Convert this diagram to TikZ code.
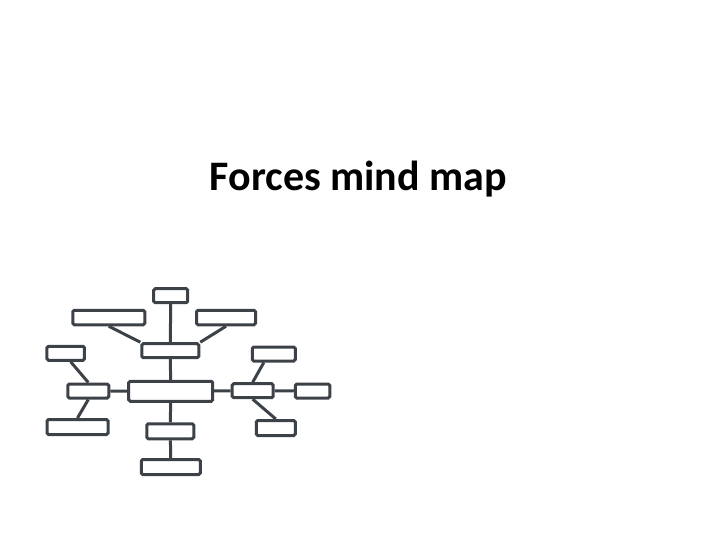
\documentclass[tikz,border=0pt]{standalone}
\usepackage{fontspec}
\setmainfont{Carlito}
\usepackage{tikz}
\usetikzlibrary{calc}
\definecolor{mapgray}{HTML}{3D4249}
\begin{document}
\begin{tikzpicture}[x=1pt,y=-1pt,lnk/.style = {draw=mapgray,line width=3pt},bx/.style args = {#1/#2}{rectangle, draw=mapgray, line width=3pt, fill=white, rounded corners=1.5pt, minimum width=#1pt, minimum height=#2pt, inner sep=0pt}]
\useasboundingbox (0,0) rectangle (720,540);
\node (title) [anchor=base, font=\bfseries\fontsize{42}{47}\selectfont, text=black] at (358.5,190.7) {Forces mind map};
\node (top) [bx=34/14] at (170.7,295.7) {};
\node (ul) [bx=72/14.5] at (108.8,317.5) {};
\node (ur) [bx=59/14.5] at (226,317.5) {};
\node (um) [bx=57/14] at (170.3,350.7) {};
\node (lt) [bx=37.5/14] at (65.7,353.3) {};
\node (rt) [bx=43/14] at (273.8,354) {};
\node (lm) [bx=41/14] at (88.3,391) {};
\node (c) [bx=84/20] at (170.7,391.3) {};
\node (rm) [bx=41/14] at (252.7,390.7) {};
\node (fr) [bx=34.5/14] at (312.5,391) {};
\node (lb) [bx=61/15] at (77.5,427) {};
\node (rb) [bx=39/15] at (275.8,428) {};
\node (lo) [bx=47/15] at (170.3,431.3) {};
\node (bt) [bx=59/15] at (170.8,467) {};
\coordinate (ltb) at ($(lt.south)+(5,0)$);
\coordinate (rtb) at ($(rt.south)+(-10,0)$);
\foreach \from/\to in {top/um, ul.south/um.north west, ur.south/um.north east, um/c, ltb/lm.north, lm.south/lb.north, lm/c, c/rm, rm/fr, rtb/rm.north, rm.south/rb.north, c/lo, lo/bt}
\draw[lnk] (\from) -- (\to);
\end{tikzpicture}
\end{document}
